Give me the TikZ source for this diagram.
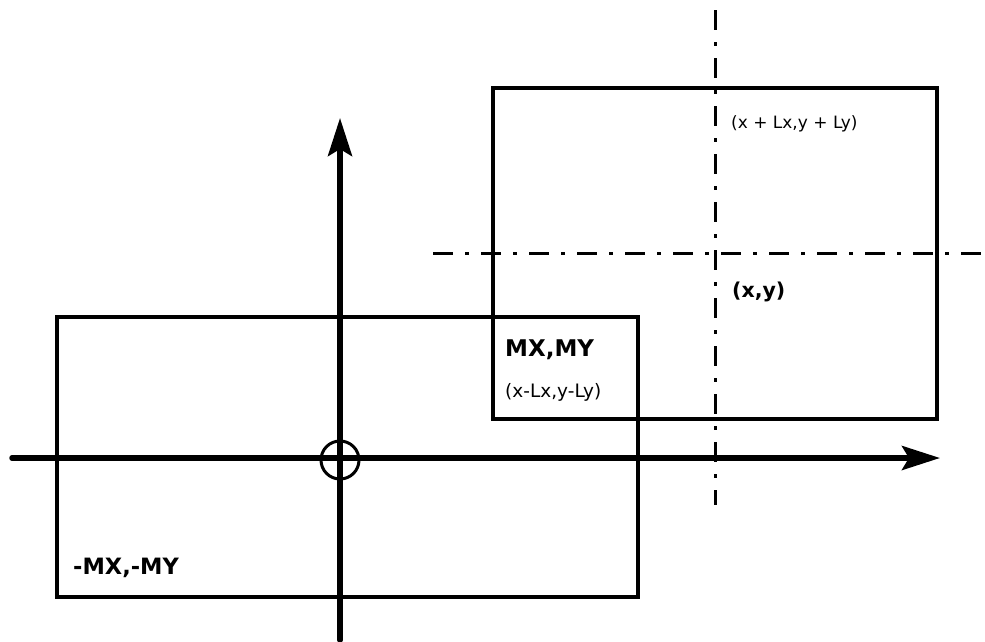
\documentclass[tikz,border=0pt]{standalone}
\usepackage{fontspec}
\setmainfont{DejaVu Sans}
\usetikzlibrary{arrows.meta}
\begin{document}
\begin{tikzpicture}[x=1pt,y=-1pt,
  boxline/.style={line width=3.2pt, line join=miter},
  axisline/.style={line width=5.5pt, line cap=round, -{Stealth[length=38pt,width=24pt,inset=7pt]}},
  centreline/.style={line width=3pt, dash pattern=on 20pt off 12pt on 4pt off 12pt},
  lbl/.style={inner sep=0pt, anchor=base west}]
\useasboundingbox (0,0) rectangle (985,641);
% coordinates
\coordinate (xaxL) at (12,458);
\coordinate (xaxR) at (940,458);
\coordinate (yaxB) at (340,640);
\coordinate (yaxT) at (340,118);
\coordinate (o) at (340,460);
\coordinate (cvT) at (715,10);
\coordinate (cvB) at (715,505);
\coordinate (chL) at (433,253);
\coordinate (chR) at (985,253);
% boxes
\draw[boxline] (57,317) rectangle (638,597);
\draw[boxline] (493,88) rectangle (937,419);
% centre lines
\draw[centreline] (cvT) -- (cvB);
\draw[centreline] (chL) -- (chR);
% axes
\draw[axisline] (xaxL) -- (xaxR);
\draw[axisline] (yaxB) -- (yaxT);
\node[circle, draw, line width=3pt, minimum size=38pt, inner sep=0pt] (origin) at (o) {};
% labels
\node[lbl, font=\fontsize{17}{17}\selectfont] (tr) at (731,128) {(x + Lx,y + Ly)};
\node[lbl, font=\bfseries\fontsize{20.5}{20.5}\selectfont] (xy) at (732,297) {(x,y)};
\node[lbl, font=\bfseries\fontsize{23}{23}\selectfont] (mxmy) at (505,356) {MX,MY};
\node[lbl, font=\fontsize{18.5}{18.5}\selectfont] (bl) at (505,397) {(x-Lx,y-Ly)};
\node[lbl, font=\bfseries\fontsize{22.5}{22.5}\selectfont] (nmxmy) at (73,574) {-MX,-MY};
\end{tikzpicture}
\end{document}
